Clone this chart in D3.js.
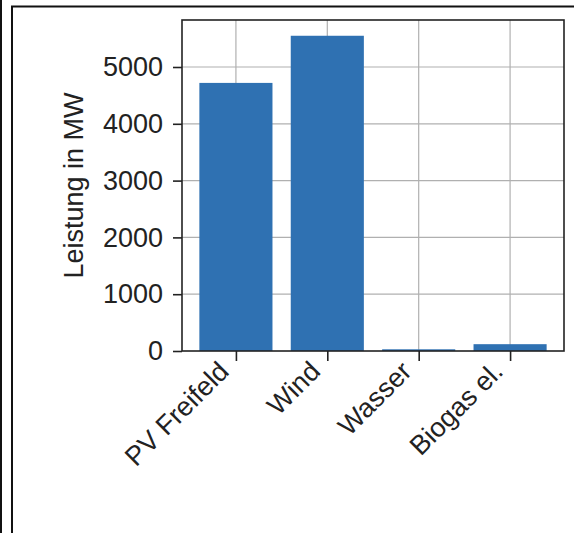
<!DOCTYPE html>
<html>
<head>
<meta charset="utf-8">
<script src="https://cdn.jsdelivr.net/npm/d3@7"></script>
<style>
  body { margin: 0; background: #fff; }
  svg { display: block; font-family: "Liberation Sans", Arial, sans-serif; }
</style>
</head>
<body>
<svg width="574" height="533"></svg>
<script>
// Installierte Leistung je Energieträger
var categories = ["PV Freifeld", "Wind", "Wasser", "Biogas el."];
var leistung = [4720, 5550, 30, 120];
var yTicks = [0, 1000, 2000, 3000, 4000, 5000];

var svg = d3.select("svg");
var width = 574, height = 533;

// outer frame lines
svg.append("line").attr("x1", 1).attr("x2", 1).attr("y1", 0).attr("y2", height)
    .attr("stroke", "#111").attr("stroke-width", 2);
svg.append("line").attr("x1", 12).attr("x2", 12).attr("y1", 6).attr("y2", height)
    .attr("stroke", "#111").attr("stroke-width", 2);
svg.append("line").attr("x1", 11).attr("x2", width).attr("y1", 6.5).attr("y2", 6.5)
    .attr("stroke", "#111").attr("stroke-width", 2);

var pLeft = 182, pRight = 564, pTop = 20, pBottom = 351;

var n = categories.length;
var xScale = d3.scaleLinear()
    .domain([-0.59, n - 1 + 0.59])
    .range([pLeft, pRight]);
var step = xScale(1) - xScale(0);

var yMax = d3.max(leistung) * 1.05;
var yScale = d3.scaleLinear()
    .domain([0, yMax])
    .range([pBottom, pTop]);

// grid
svg.append("g").selectAll("line")
    .data(yTicks.slice(1))
    .enter().append("line")
    .attr("x1", pLeft).attr("x2", pRight)
    .attr("y1", d => yScale(d)).attr("y2", d => yScale(d))
    .attr("stroke", "#b0b0b0").attr("stroke-width", 1.2);
svg.append("g").selectAll("line")
    .data(categories)
    .enter().append("line")
    .attr("x1", (d, i) => xScale(i)).attr("x2", (d, i) => xScale(i))
    .attr("y1", pTop).attr("y2", pBottom)
    .attr("stroke", "#b0b0b0").attr("stroke-width", 1.2);

// bars
svg.append("g").selectAll("rect")
    .data(leistung)
    .enter().append("rect")
    .attr("x", (d, i) => xScale(i - 0.4))
    .attr("width", step * 0.8)
    .attr("y", d => yScale(d))
    .attr("height", d => pBottom - yScale(d))
    .attr("fill", "#2f71b2");

// frame of plot area
svg.append("rect")
    .attr("x", pLeft).attr("y", pTop)
    .attr("width", pRight - pLeft).attr("height", pBottom - pTop)
    .attr("fill", "none").attr("stroke", "#222").attr("stroke-width", 1.6);

// y axis
var yAxis = d3.axisLeft(yScale)
    .tickValues(yTicks)
    .tickSize(9)
    .tickPadding(10)
    .tickFormat(d3.format("d"));
var gy = svg.append("g").attr("transform", "translate(" + pLeft + ",0)").call(yAxis);
gy.select(".domain").remove();
gy.selectAll(".tick line").attr("stroke", "#222").attr("stroke-width", 1.6);
gy.selectAll(".tick text").attr("font-size", 27).attr("fill", "#222")
    .attr("font-family", "Liberation Sans, Arial, sans-serif");

// x axis
var xAxis = d3.axisBottom(xScale)
    .tickValues(d3.range(n))
    .tickSize(10)
    .tickFormat(i => categories[i]);
var gx = svg.append("g").attr("transform", "translate(0," + pBottom + ")").call(xAxis);
gx.select(".domain").remove();
gx.selectAll(".tick line").attr("stroke", "#222").attr("stroke-width", 1.6);
gx.selectAll(".tick text")
    .attr("font-size", 27).attr("fill", "#222")
    .attr("font-family", "Liberation Sans, Arial, sans-serif")
    .attr("text-anchor", "end")
    .attr("dy", null)
    .attr("y", 0)
    .attr("transform", "translate(-6,22) rotate(-45)");

// y label
svg.append("text")
    .attr("transform", "translate(83," + ((pTop + pBottom) / 2) + ") rotate(-90)")
    .attr("text-anchor", "middle")
    .attr("font-size", 27)
    .attr("fill", "#222")
    .text("Leistung in MW");
</script>
</body>
</html>
